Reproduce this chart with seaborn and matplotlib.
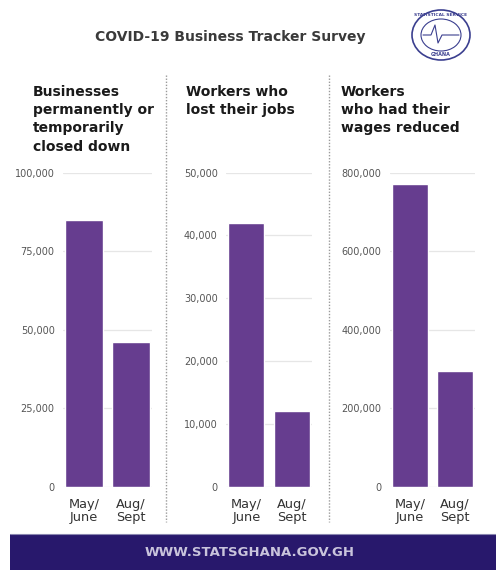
import matplotlib
matplotlib.use("Agg")
import matplotlib.pyplot as plt
import seaborn as sns
import pandas as pd
from matplotlib.patches import Rectangle, Ellipse
from matplotlib.lines import Line2D
from matplotlib.ticker import FuncFormatter

# ---- data ----
periods = ["May/\nJune", "Aug/\nSept"]
businesses_closed = [85000, 46000]
workers_lost_jobs = [42000, 12000]
workers_wages_reduced = [770000, 295000]
panel_titles = [
    "Businesses\npermanently or\ntemporarily\nclosed down",
    "Workers who\nlost their jobs",
    "Workers\nwho had their\nwages reduced",
]
y_maxes = [100000, 50000, 800000]
y_ticks = [
    [0, 25000, 50000, 75000, 100000],
    [0, 10000, 20000, 30000, 40000, 50000],
    [0, 200000, 400000, 600000, 800000],
]
header_title = "COVID-19 Business Tracker Survey"
footer_text = "WWW.STATSGHANA.GOV.GH"

BAR = "#663d8f"
NAVY = "#28186c"

sns.set_theme(style="white")
plt.rcParams["font.family"] = ["DejaVu Sans"]

W, H = 496, 570
fig = plt.figure(figsize=(W / 100, H / 100), dpi=100)
fig.patch.set_facecolor("white")

def fx(px):
    return px / W

def fy(py):
    return 1 - py / H

axes_px = [(63, 152), (226, 312), (390, 475)]
y_top, y_bot = 172.7, 486.7
series = [businesses_closed, workers_lost_jobs, workers_wages_reduced]

for i, ((x0, x1), vals) in enumerate(zip(axes_px, series)):
    ax = fig.add_axes([fx(x0), fy(y_bot), fx(x1 - x0), (y_bot - y_top) / H])
    df = pd.DataFrame({"period": periods, "value": vals})
    ax.set_axisbelow(True)
    ax.grid(axis="y", color="#e6e6e6", linewidth=0.9)
    sns.barplot(data=df, x="period", y="value", color=BAR, width=0.8,
                saturation=1, ax=ax, zorder=3)
    ax.set_xlim(-0.45, 1.45)
    ax.set_ylim(0, y_maxes[i])
    ax.set_yticks(y_ticks[i])
    ax.yaxis.set_major_formatter(FuncFormatter(lambda v, p: f"{int(v):,}"))
    ax.tick_params(axis="y", labelsize=7, labelcolor="#555555", length=0, pad=6)
    ax.tick_params(axis="x", labelsize=9.3, labelcolor="#333333", length=0, pad=8)
    for lbl in ax.get_xticklabels():
        lbl.set_linespacing(1.0)
    ax.set_xlabel("")
    ax.set_ylabel("")
    for s in ax.spines.values():
        s.set_visible(False)

# panel titles
title_x = [33, 186, 341]
for tx, t in zip(title_x, panel_titles):
    fig.text(fx(tx), fy(85), t, ha="left", va="top", fontsize=10,
             fontweight="bold", color="#1a1a1a", linespacing=1.38)

# dotted separators
for sx in [165.5, 328.5]:
    fig.add_artist(Line2D([fx(sx), fx(sx)], [fy(75), fy(522)],
                          transform=fig.transFigure, color="#9a9a9a",
                          linestyle=(0, (1, 1.2)), linewidth=1.0))

# header
fig.text(fx(230), fy(37), header_title, ha="center", va="center",
         fontsize=10, fontweight="bold", color="#3a3a3a")

# logo
fig.add_artist(Ellipse((fx(441), fy(35)), fx(58), 50 / H,
                       transform=fig.transFigure, fill=False,
                       edgecolor="#3b3f8f", linewidth=1.2))
fig.add_artist(Ellipse((fx(441), fy(35)), fx(40), 32 / H,
                       transform=fig.transFigure, fill=False,
                       edgecolor="#3b3f8f", linewidth=0.8))
fig.text(fx(441), fy(15), "STATISTICAL SERVICE", ha="center", va="center",
         fontsize=3.2, fontweight="bold", color="#3b3f8f")
fig.text(fx(441), fy(55), "GHANA", ha="center", va="center",
         fontsize=3.5, fontweight="bold", color="#3b3f8f")
fig.add_artist(Line2D([fx(423), fx(431), fx(435), fx(438), fx(442), fx(459)],
                      [fy(35), fy(35), fy(25), fy(43), fy(35), fy(35)],
                      transform=fig.transFigure, color="#3b3f8f", linewidth=0.8))

# footer
fig.add_artist(Rectangle((fx(10), 0), fx(486), (570 - 534) / H,
                         transform=fig.transFigure, facecolor=NAVY,
                         edgecolor="none"))
fig.add_artist(Line2D([fx(10), fx(496)], [fy(534), fy(534)],
                      transform=fig.transFigure, color="#8a86b0", linewidth=0.8))
fig.text(fx(250), fy(552), footer_text, ha="center", va="center",
         fontsize=9.5, fontweight="bold", color="#c9c4dc")

fig.savefig("out.png", dpi=100, facecolor="white")
